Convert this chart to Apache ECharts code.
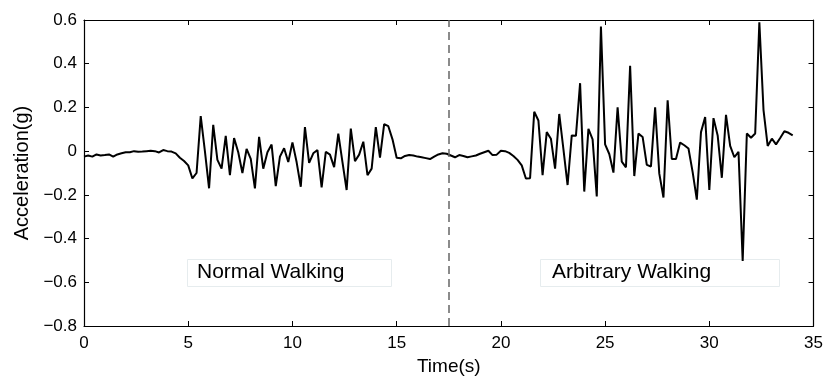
<!DOCTYPE html>
<html>
<head>
<meta charset="utf-8">
<script src="https://cdn.jsdelivr.net/npm/echarts@6/dist/echarts.min.js"></script>
<style>
  html, body { margin: 0; padding: 0; background: #fff; }
  #main { width: 826px; height: 381px; }
</style>
</head>
<body>
<div id="main"></div>
<script>
// time stamps (s), sampled every 0.2 s
var time = [
  0.0, 0.2, 0.4, 0.6, 0.8, 1.0, 1.2, 1.4, 1.6, 1.8,
  2.0, 2.2, 2.4, 2.6, 2.8, 3.0, 3.2, 3.4, 3.6, 3.8,
  4.0, 4.2, 4.4, 4.6, 4.8, 5.0, 5.2, 5.4, 5.6, 5.8,
  6.0, 6.2, 6.4, 6.6, 6.8, 7.0, 7.2, 7.4, 7.6, 7.8,
  8.0, 8.2, 8.4, 8.6, 8.8, 9.0, 9.2, 9.4, 9.6, 9.8,
  10.0, 10.2, 10.4, 10.6, 10.8, 11.0, 11.2, 11.4, 11.6, 11.8,
  12.0, 12.2, 12.4, 12.6, 12.8, 13.0, 13.2, 13.4, 13.6, 13.8,
  14.0, 14.2, 14.4, 14.6, 14.8, 15.0, 15.2, 15.4, 15.6, 15.8,
  16.0, 16.2, 16.4, 16.6, 16.8, 17.0, 17.2, 17.4, 17.6, 17.8,
  18.0, 18.2, 18.4, 18.6, 18.8, 19.0, 19.2, 19.4, 19.6, 19.8,
  20.0, 20.2, 20.4, 20.6, 20.8, 21.0, 21.2, 21.4, 21.6, 21.8,
  22.0, 22.2, 22.4, 22.6, 22.8, 23.0, 23.2, 23.4, 23.6, 23.8,
  24.0, 24.2, 24.4, 24.6, 24.8, 25.0, 25.2, 25.4, 25.6, 25.8,
  26.0, 26.2, 26.4, 26.6, 26.8, 27.0, 27.2, 27.4, 27.6, 27.8,
  28.0, 28.2, 28.4, 28.6, 28.8, 29.0, 29.2, 29.4, 29.6, 29.8,
  30.0, 30.2, 30.4, 30.6, 30.8, 31.0, 31.2, 31.4, 31.6, 31.8,
  32.0, 32.2, 32.4, 32.6, 32.8, 33.0, 33.2, 33.4, 33.6, 33.8,
  34.0
];

// acceleration (g)
var accel = [
  -0.025, -0.02, -0.025, -0.015, -0.02, -0.018, -0.015, -0.025, -0.015, -0.01,
  -0.005, -0.005, 0.0, -0.003, -0.002, 0.0, 0.002, 0.0, -0.006, 0.005,
  0.0, -0.002, -0.01, -0.03, -0.045, -0.065, -0.125, -0.10, 0.16, 0.0,
  -0.17, 0.12, -0.04, -0.08, 0.07, -0.11, 0.06, -0.005, -0.10, 0.01,
  -0.035, -0.17, 0.065, -0.08, -0.005, 0.03, -0.16, -0.025, 0.013, -0.05,
  0.04, -0.05, -0.163, 0.11, -0.054, -0.01, 0.005, -0.166, -0.003, -0.016,
  -0.073, 0.08, -0.05, -0.178, 0.103, -0.046, -0.016, 0.043, -0.11, -0.08,
  0.11, -0.03, 0.124, 0.114, 0.054, -0.03, -0.033, -0.022, -0.018, -0.02,
  -0.025, -0.028, -0.032, -0.036, -0.025, -0.015, -0.01, -0.012, -0.02, -0.028,
  -0.018, -0.022, -0.028, -0.024, -0.02, -0.012, -0.005, 0.002, -0.018, -0.016,
  0.002, 0.0, -0.008, -0.022, -0.04, -0.065, -0.125, -0.124, 0.18, 0.14,
  -0.11, 0.087, 0.057, -0.08, 0.17, 0.009, -0.155, 0.072, 0.07, 0.311,
  -0.185, 0.102, 0.054, -0.207, 0.57, 0.031, -0.013, -0.098, 0.2, -0.048,
  -0.074, 0.39, -0.114, 0.08, 0.065, -0.063, -0.07, 0.2, -0.103, -0.212,
  0.233, -0.036, -0.036, 0.039, 0.027, 0.012, -0.096, -0.222, 0.087, 0.156,
  -0.178, 0.151, 0.072, -0.122, 0.166, 0.024, -0.028, -0.003, -0.502, 0.081,
  0.061, 0.081, 0.59, 0.188, 0.024, 0.057, 0.031, 0.06, 0.091, 0.084,
  0.072
];

var splitTime = 17.5;
var labels = ['Normal Walking', 'Arbitrary Walking'];

var points = time.map(function (t, i) { return [t, accel[i]]; });

var font = 'Liberation Sans, Arial, sans-serif';

function yFmt(v) {
  if (Math.abs(v) < 1e-9) return '0';
  return (v < 0 ? '\u2212' : '') + Math.abs(v).toFixed(1);
}

var chart = echarts.init(document.getElementById('main'), null, { renderer: 'canvas' });

var tickStyle = { show: true, inside: true, length: 5, lineStyle: { color: '#000', width: 1 } };
var lineStyleAxis = { show: true, onZero: false, lineStyle: { color: '#000', width: 1.2 } };

var option = {
  backgroundColor: '#fff',
  animation: false,
  grid: { left: 84, right: 12, top: 20, bottom: 49 },
  xAxis: [{
    type: 'value',
    min: 0, max: 35, interval: 5,
    name: 'Time(s)',
    nameLocation: 'middle',
    nameGap: 31,
    nameTextStyle: { color: '#000', fontSize: 19, fontFamily: font },
    axisLine: lineStyleAxis,
    axisTick: tickStyle,
    axisLabel: { color: '#000', fontSize: 17, fontFamily: font, margin: 9 },
    splitLine: { show: false }
  }, {
    type: 'value', position: 'top',
    min: 0, max: 35, interval: 5,
    axisLine: lineStyleAxis,
    axisTick: tickStyle,
    axisLabel: { show: false },
    splitLine: { show: false }
  }],
  yAxis: [{
    type: 'value',
    min: -0.8, max: 0.6, interval: 0.2,
    name: 'Acceleration(g)',
    nameLocation: 'middle',
    nameGap: 46,
    nameTextStyle: { color: '#000', fontSize: 20, fontFamily: font },
    axisLine: lineStyleAxis,
    axisTick: tickStyle,
    axisLabel: { color: '#000', fontSize: 17, fontFamily: font, margin: 7, formatter: yFmt },
    splitLine: { show: false }
  }, {
    type: 'value', position: 'right',
    min: -0.8, max: 0.6, interval: 0.2,
    axisLine: lineStyleAxis,
    axisTick: tickStyle,
    axisLabel: { show: false },
    splitLine: { show: false }
  }],
  series: [{
    type: 'line',
    data: points,
    showSymbol: false,
    symbol: 'none',
    lineStyle: { color: '#000', width: 2 },
    markLine: {
      silent: true,
      symbol: 'none',
      label: { show: false },
      lineStyle: { color: '#666', width: 1.5, type: [8, 5] },
      data: [[{ coord: [splitTime, -0.8] }, { coord: [splitTime, 0.6] }]]
    }
  }],
  graphic: [
    {
      type: 'rect', left: 187, top: 259,
      shape: { width: 204, height: 27 },
      style: { fill: '#fff', stroke: '#e6ecee', lineWidth: 1 }
    },
    {
      type: 'text', left: 197, top: 262,
      style: { text: labels[0], fill: '#000', fontSize: 21, fontFamily: font }
    },
    {
      type: 'rect', left: 540, top: 259,
      shape: { width: 239, height: 27 },
      style: { fill: '#fff', stroke: '#e6ecee', lineWidth: 1 }
    },
    {
      type: 'text', left: 552, top: 262,
      style: { text: labels[1], fill: '#000', fontSize: 21, fontFamily: font }
    }
  ]
};

chart.setOption(option);
</script>
</body>
</html>
